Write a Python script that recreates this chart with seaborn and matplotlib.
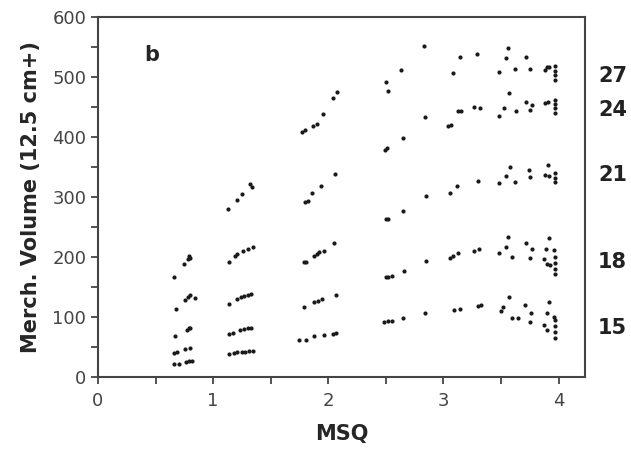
import pandas as pd
import numpy as np
import seaborn as sns
import matplotlib.pyplot as plt
from matplotlib.ticker import MultipleLocator

# site index series: MSQ vs merch. volume
msq_15 = [0.66, 0.70, 0.765, 0.79, 0.815,
          1.14, 1.18, 1.21, 1.25, 1.28, 1.31, 1.345,
          1.745, 1.81, 1.88, 1.96, 2.04, 2.07,
          2.48, 2.52, 2.55, 2.65, 2.84,
          3.09, 3.14, 3.30, 3.33, 3.50, 3.52, 3.57, 3.60, 3.65, 3.71, 3.76, 3.75,
          3.87, 3.90, 3.92, 3.90, 3.96, 3.97, 3.97, 3.97, 3.97]
vol_15 = [22, 22, 25, 26, 27,
          38, 40, 41, 42, 42, 43, 43,
          62, 62, 68, 70, 72, 74,
          92, 93, 94, 98, 107,
          112, 114, 118, 120, 110, 117, 133, 99, 99, 120, 107, 92,
          87, 106, 125, 78, 100, 95, 85, 75, 65]

msq_18 = [0.66, 0.69, 0.76, 0.80,
          1.14, 1.17, 1.23, 1.27, 1.30, 1.33,
          1.785, 1.88, 1.91, 1.945, 2.07,
          2.50, 2.52, 2.55, 2.66, 2.85,
          3.06, 3.08, 3.13, 3.27, 3.31, 3.48, 3.54, 3.56, 3.60, 3.72, 3.77, 3.75,
          3.89, 3.92, 3.87, 3.90, 3.93, 3.96, 3.97, 3.97, 3.97, 3.97]
vol_18 = [40, 41, 46, 49,
          72, 73, 78, 80, 81, 81,
          117, 125, 127, 130, 137,
          166, 167, 168, 177, 193,
          198, 201, 206, 210, 213, 207, 217, 233, 200, 224, 213, 198,
          213, 231, 196, 189, 187, 212, 200, 190, 180, 172]

msq_21 = [0.67, 0.77, 0.79, 0.80,
          1.14, 1.21, 1.24, 1.27, 1.30, 1.33,
          1.79, 1.81, 1.88, 1.90, 1.92, 1.96, 2.05,
          2.50, 2.52, 2.65, 2.85,
          3.06, 3.12, 3.30, 3.48, 3.54, 3.58, 3.62, 3.74, 3.75, 3.88, 3.91, 3.92,
          3.97, 3.97, 3.97]
vol_21 = [68, 79, 82, 81,
          121, 130, 133, 135, 137, 139,
          191, 192, 202, 205, 209, 210, 223,
          263, 264, 277, 302,
          306, 318, 327, 323, 335, 350, 325, 345, 334, 337, 353, 335,
          340, 332, 325]

msq_24 = [0.68, 0.76, 0.78, 0.80, 0.84,
          1.14, 1.19, 1.21, 1.26, 1.30, 1.345,
          1.80, 1.82, 1.86, 1.94, 2.06,
          2.49, 2.51, 2.65, 2.84,
          3.04, 3.07, 3.13, 3.15, 3.27, 3.32, 3.48, 3.53, 3.57, 3.63, 3.72, 3.75,
          3.77, 3.88, 3.91, 3.97, 3.97, 3.97, 3.97]
vol_24 = [113, 128, 133, 137, 131,
          192, 202, 205, 210, 213, 217,
          292, 294, 306, 318, 338,
          378, 381, 399, 434,
          418, 420, 443, 444, 450, 449, 435, 449, 474, 443, 459, 445,
          453, 456, 458, 462, 455, 448, 440]

msq_27 = [0.66, 0.745, 0.78, 0.79, 0.80,
          1.13, 1.21, 1.25, 1.32, 1.34,
          1.77, 1.80, 1.87, 1.90, 1.95, 2.04, 2.08,
          2.50, 2.52, 2.63, 2.83,
          3.08, 3.14, 3.29, 3.48, 3.54, 3.56, 3.62, 3.72, 3.75, 3.88, 3.90, 3.92,
          3.97, 3.97, 3.97, 3.97]
vol_27 = [167, 188, 197, 201, 199,
          280, 295, 305, 322, 316,
          409, 412, 418, 421, 438, 465, 475,
          492, 477, 512, 552,
          506, 533, 539, 509, 531, 548, 514, 534, 513, 512, 516, 517,
          518, 510, 503, 495]

site_labels = ['15', '18', '21', '24', '27']

df = pd.concat([
    pd.DataFrame({'MSQ': msq_15, 'vol': vol_15, 'site': '15'}),
    pd.DataFrame({'MSQ': msq_18, 'vol': vol_18, 'site': '18'}),
    pd.DataFrame({'MSQ': msq_21, 'vol': vol_21, 'site': '21'}),
    pd.DataFrame({'MSQ': msq_24, 'vol': vol_24, 'site': '24'}),
    pd.DataFrame({'MSQ': msq_27, 'vol': vol_27, 'site': '27'}),
], ignore_index=True)

sns.set_style('ticks')
plt.rcParams['font.family'] = ['DejaVu Sans']

fig = plt.figure(figsize=(6.31, 4.58), dpi=100)
ax = fig.add_axes([0.1553, 0.1769, 0.7718, 0.786])

sns.scatterplot(data=df, x='MSQ', y='vol', color='#1a1a1a', s=9,
                linewidth=0, legend=False, ax=ax)

ax.set_xlim(0, 4.23)
ax.set_ylim(0, 600)
ax.xaxis.set_major_locator(MultipleLocator(1))
ax.xaxis.set_minor_locator(MultipleLocator(0.5))
ax.yaxis.set_major_locator(MultipleLocator(100))
ax.yaxis.set_minor_locator(MultipleLocator(50))
ax.tick_params(which='both', direction='out', length=5, width=1.3,
               color='#444444', labelsize=13, labelcolor='#444444')
ax.tick_params(axis='x', pad=6)
for sp in ax.spines.values():
    sp.set_color('#444444')
    sp.set_linewidth(1.5)

ax.set_xlabel('MSQ', fontsize=15, fontweight='bold', labelpad=10)
ax.set_ylabel('Merch. Volume (12.5 cm+)', fontsize=15, fontweight='bold', labelpad=8)

ax.text(0.47, 537, 'b', fontsize=15, fontweight='bold', ha='center', va='center')

# site index labels on the right side
label_y = {'27': 502, '24': 445, '21': 337, '18': 192, '15': 82}
for lab in site_labels:
    ax.text(1.027, label_y[lab], lab, transform=ax.get_yaxis_transform(),
            fontsize=15, fontweight='bold', color='#222222', ha='left', va='center')

plt.savefig('out.png', dpi=100)
